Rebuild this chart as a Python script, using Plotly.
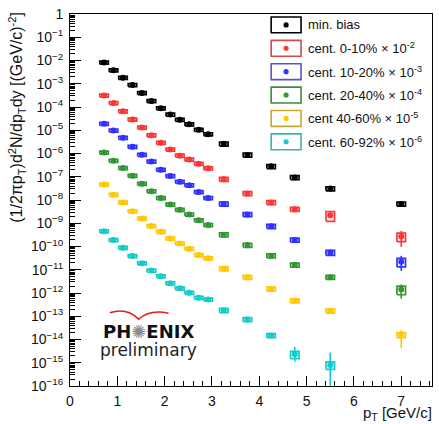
import plotly.graph_objects as go

# ---------------- data (as plotted, already scaled) ----------------
pt = [0.72, 0.92, 1.12, 1.32, 1.52, 1.72, 1.92, 2.12, 2.32, 2.52, 2.72, 2.92,
      3.25, 3.75, 4.25, 4.75, 5.5, 7.0]

minbias = [8.2e-3, 3.8e-3, 1.8e-3, 8.9e-4, 4.0e-4, 1.8e-4, 8.9e-5, 4.7e-5, 2.8e-5,
           1.8e-5, 1.04e-5, 6.8e-6, 2.6e-6, 8.7e-7, 2.8e-7, 9.3e-8, 3.1e-8, 6.8e-9]
cent0_10 = [3.1e-4, 1.5e-4, 6.6e-5, 2.9e-5, 1.3e-5, 6.1e-6, 2.9e-6, 1.5e-6, 8.1e-7,
            5.5e-7, 3.6e-7, 2.3e-7, 7.9e-8, 1.9e-8, 7.8e-9, 4.0e-9, 2.2e-9, 2.7e-10]
cent10_20 = [1.9e-5, 9.8e-6, 4.7e-6, 1.95e-6, 8.9e-7, 4.5e-7, 2.0e-7, 1.07e-7, 6.1e-8,
             4.3e-8, 2.2e-8, 1.22e-8, 6.8e-9, 2.4e-9, 7.4e-10, 1.9e-10, 5.5e-11, 2.2e-11]
cent20_40 = [1.1e-6, 4.9e-7, 2.4e-7, 1.1e-7, 5.0e-8, 2.4e-8, 1.22e-8, 6.4e-9, 3.8e-9,
             2.4e-9, 1.33e-9, 8.4e-10, 3.2e-10, 1.15e-10, 4.0e-11, 1.6e-11, 4.8e-12, 1.4e-12]
cent40_60 = [4.6e-8, 1.7e-8, 7.8e-9, 3.3e-9, 1.6e-9, 7.6e-10, 4.3e-10, 2.2e-10, 1.35e-10,
             8.0e-11, 4.3e-11, 3.1e-11, 1.12e-11, 4.8e-12, 1.5e-12, 4.7e-13, 1.7e-13, 1.6e-14]
cent60_92 = [4.5e-10, 1.9e-10, 8.8e-11, 3.9e-11, 1.9e-11, 9.2e-12, 5.3e-12, 2.6e-12, 1.6e-12,
             1.03e-12, 6.3e-13, 5.2e-13, 1.8e-13, 7.3e-14, 1.5e-14, 2.3e-15, 8.0e-16, None]

# relative systematic uncertainties (boxes)
sys_minbias = [0.15] * 12 + [0.2] * 6
sys_0_10 = [0.15] * 12 + [0.2] * 4 + [0.45, 0.4]
sys_10_20 = [0.15] * 12 + [0.2] * 4 + [0.25, 0.4]
sys_20_40 = [0.15] * 12 + [0.2] * 5 + [0.4]
sys_40_60 = [0.15] * 12 + [0.2] * 5 + [0.25]
sys_60_92 = [0.15] * 12 + [0.2] * 3 + [0.35, 0.35, 0.2]

# relative statistical uncertainties (vertical bars): up, down
stat_up_minbias = [0] * 18
stat_dn_minbias = [0] * 18
stat_up_0_10 = [0] * 17 + [0.75]
stat_dn_0_10 = [0] * 17 + [0.64]
stat_up_10_20 = [0] * 17 + [0.80]
stat_dn_10_20 = [0] * 17 + [0.59]
stat_up_20_40 = [0] * 17 + [0.68]
stat_dn_20_40 = [0] * 17 + [0.59]
stat_up_40_60 = [0] * 17 + [0.58]
stat_dn_40_60 = [0] * 17 + [0.73]
stat_up_60_92 = [0] * 15 + [1.1, 2.44, 0]
stat_dn_60_92 = [0] * 15 + [0.52, 0.97, 0]

labels = ["min. bias",
          "cent. 0-10% × 10<sup>-2</sup>",
          "cent. 10-20% × 10<sup>-3</sup>",
          "cent. 20-40% × 10<sup>-4</sup>",
          "cent 40-60% × 10<sup>-5</sup>",
          "cent. 60-92% × 10<sup>-6</sup>"]

y_tick_exps = list(range(-16, 1))
x_ticks = [0, 1, 2, 3, 4, 5, 6, 7]

# ---------------- styling ----------------
series = [
    (minbias, sys_minbias, stat_up_minbias, stat_dn_minbias, "#000000", "#000000"),
    (cent0_10, sys_0_10, stat_up_0_10, stat_dn_0_10, "#ff3535", "#d24a4a"),
    (cent10_20, sys_10_20, stat_up_10_20, stat_dn_10_20, "#3030ff", "#5454d0"),
    (cent20_40, sys_20_40, stat_up_20_40, stat_dn_20_40, "#329632", "#3f8a3f"),
    (cent40_60, sys_40_60, stat_up_40_60, stat_dn_40_60, "#ffc800", "#c8a82a"),
    (cent60_92, sys_60_92, stat_up_60_92, stat_dn_60_92, "#10cccc", "#3ab2b2"),
]

FONT = "Liberation Sans, Arial, sans-serif"
W, H = 439, 424
L, R, T, B = 70, 5.5, 11, 37.5
PW, PH = W - L - R, H - T - B
BOX_HW = 0.09


def X(px):
    return (px - L) / PW


def Y(py):
    return 1 - (py - T) / PH


fig = go.Figure()

for vals, sys, su, sd, col, lcol in series:
    bx, by = [], []
    for x, v, s in zip(pt, vals, sys):
        if v is None:
            continue
        lo, hi = v * (1 - s), v * (1 + s)
        bx += [x - BOX_HW, x + BOX_HW, x + BOX_HW, x - BOX_HW, x - BOX_HW, None]
        by += [lo, lo, hi, hi, lo, None]
    fig.add_trace(go.Scatter(x=bx, y=by, mode="lines",
                             line=dict(color=col, width=1.7),
                             hoverinfo="skip", showlegend=False))
    eu = [v * u if v is not None else None for v, u in zip(vals, su)]
    ed = [v * d if v is not None else None for v, d in zip(vals, sd)]
    fig.add_trace(go.Scatter(
        x=pt, y=vals, mode="markers",
        marker=dict(color=col, size=6, symbol="circle", line=dict(width=0)),
        error_y=dict(type="data", symmetric=False, array=eu, arrayminus=ed,
                     color=col, thickness=1.6, width=0),
        showlegend=False))

# ---------------- legend (drawn manually) ----------------
shapes = []
annotations = []
row0, drow = 22.0, 23.6
for i, (lab, s) in enumerate(zip(labels, series)):
    cy = row0 + drow * i
    col, lcol = s[4], s[5]
    shapes.append(dict(type="rect", xref="paper", yref="paper",
                       x0=X(272), x1=X(302), y0=Y(cy - 8), y1=Y(cy + 8),
                       line=dict(color=lcol, width=1.6), fillcolor="white"))
    shapes.append(dict(type="circle", xref="paper", yref="paper",
                       x0=X(287 - 2.6), x1=X(287 + 2.6), y0=Y(cy - 2.6), y1=Y(cy + 2.6),
                       line=dict(width=0), fillcolor=col))
    annotations.append(dict(xref="paper", yref="paper", x=X(307), y=Y(cy),
                            xanchor="left", yanchor="middle", showarrow=False,
                            text=lab, font=dict(family=FONT, size=13, color="#111")))

# axis titles
annotations.append(dict(xref="paper", yref="paper", x=X(16), y=Y(7),
                        xanchor="center", yanchor="top", textangle=-90, showarrow=False,
                        text="(1/2πp<sub>T</sub>)d<sup>2</sup>N/dp<sub>T</sub>dy [(GeV/c)<sup>-2</sup>]",
                        font=dict(family=FONT, size=16, color="#111")))
annotations.append(dict(xref="paper", yref="paper", x=X(436), y=Y(414.5),
                        xanchor="right", yanchor="middle", showarrow=False,
                        text="p<sub>T</sub> [GeV/c]",
                        font=dict(family=FONT, size=15, color="#111")))

# PHENIX preliminary logo
annotations.append(dict(xref="paper", yref="paper", x=X(149), y=Y(331),
                        xanchor="center", yanchor="middle", showarrow=False,
                        text="PH<span style='color:#8a8a8a;font-weight:normal'>✺</span>ENIX",
                        font=dict(family="DejaVu Sans", size=18, color="#111", weight="bold")))
annotations.append(dict(xref="paper", yref="paper", x=X(149), y=Y(350),
                        xanchor="center", yanchor="middle", showarrow=False,
                        text="preliminary",
                        font=dict(family="DejaVu Sans", size=17, color="#222")))
shapes.append(dict(type="path", xref="paper", yref="paper",
                   path=(f"M{X(110)},{Y(312.5)} Q{X(127)},{Y(307)} {X(139)},{Y(319)} "
                         f"Q{X(150)},{Y(309)} {X(169)},{Y(313)}"),
                   line=dict(color="#e02020", width=1.6)))

ytickvals = [10.0 ** e for e in y_tick_exps]
yticktext = ["1" if e == 0 else f"10<sup>−{-e}</sup>" for e in y_tick_exps]
yminor = [m * 10.0 ** e for e in y_tick_exps[:-1] for m in range(2, 10)]

fig.update_layout(
    width=W, height=H,
    margin=dict(l=L, r=R, t=T, b=B, pad=0),
    paper_bgcolor="white", plot_bgcolor="white",
    showlegend=False,
    shapes=shapes, annotations=annotations,
    font=dict(family=FONT, size=14, color="#111"),
    xaxis=dict(range=[0, 7.65], tickmode="array", tickvals=x_ticks,
               ticks="inside", ticklen=10, tickwidth=1, tickcolor="black",
               minor=dict(dtick=0.2, tick0=0, ticks="inside", ticklen=5,
                          tickcolor="black", showgrid=False),
               showline=True, linecolor="black", linewidth=1, mirror=True,
               showgrid=False, zeroline=False,
               tickfont=dict(family=FONT, size=14, color="#111"), ticklabelstandoff=2),
    yaxis=dict(type="log", range=[-16, 0], tickmode="array", tickvals=ytickvals,
               ticktext=yticktext, ticks="inside", ticklen=11, tickwidth=1,
               tickcolor="black",
               minor=dict(tickmode="array", tickvals=yminor, ticks="inside", ticklen=5,
                          tickcolor="black", showgrid=False),
               showline=True, linecolor="black", linewidth=1, mirror=True,
               showgrid=False, zeroline=False,
               tickfont=dict(family=FONT, size=14, color="#111"), ticklabelstandoff=3),
)

fig.write_html("out.html", config={"displayModeBar": False},
               post_script="document.body.style.margin='0';document.body.style.overflow='hidden';")
